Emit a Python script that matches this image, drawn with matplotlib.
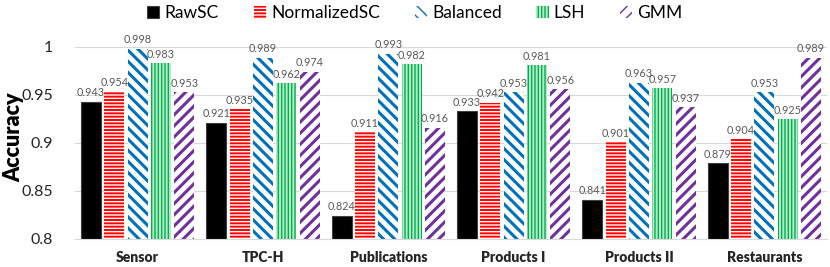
import matplotlib
matplotlib.use("Agg")
import matplotlib.pyplot as plt
import numpy as np

categories = ["Sensor", "TPC-H", "Publications", "Products I", "Products II", "Restaurants"]
series_names = ["RawSC", "NormalizedSC", "Balanced", "LSH", "GMM"]
raw_sc = [0.943, 0.921, 0.824, 0.933, 0.841, 0.879]
normalized_sc = [0.954, 0.935, 0.911, 0.942, 0.901, 0.904]
balanced = [0.998, 0.989, 0.993, 0.953, 0.963, 0.953]
lsh = [0.983, 0.962, 0.982, 0.981, 0.957, 0.925]
gmm = [0.953, 0.974, 0.916, 0.956, 0.937, 0.989]
yticks = [0.8, 0.85, 0.9, 0.95, 1.0]
ytick_labels = ["0.8", "0.85", "0.9", "0.95", "1"]

series = [raw_sc, normalized_sc, balanced, lsh, gmm]

plt.rcParams['font.family'] = ['Lato', 'DejaVu Sans']

styles = [
    dict(face="black", hatch=None, hcolor="#404040", hlw=1.0),
    dict(face="#ff0000", hatch="-----", hcolor="white", hlw=1.0),
    dict(face="white", hatch="\\\\\\", hcolor="#0070c0", hlw=2.2),
    dict(face="#b7ebc8", hatch="|||||", hcolor="#00b050", hlw=1.0),
    dict(face="white", hatch="///", hcolor="#7030a0", hlw=2.2),
]

fig = plt.figure(figsize=(8.3, 2.67), dpi=100)
ax = fig.add_axes([0.0904, 0.105, 0.906, 0.719])

x = np.arange(len(categories))
pitch = 0.186
width = 0.16
handles = []
for i, (vals, st, name) in enumerate(zip(series, styles, series_names)):
    with plt.rc_context({'hatch.linewidth': st["hlw"]}):
        bars = ax.bar(x + (i - 2) * pitch, np.array(vals) - 0.8, width, bottom=0.8,
                      color=st["face"], edgecolor=st["hcolor"], hatch=st["hatch"],
                      linewidth=0.8 if i == 0 else 0, label=name, zorder=3)
    handles.append(bars)
    for xi, v in zip(x + (i - 2) * pitch, vals):
        ax.annotate(f"{v:.3f}", (xi, v), xytext=(0, 2.5), textcoords="offset points",
                    ha="center", va="bottom", fontsize=7.8, color="#595959",
                    clip_on=False, zorder=4)

ax.set_xlim(-0.5, len(categories) - 0.5)
ax.set_ylim(0.8, 1.0)
ax.set_yticks(yticks)
ax.set_yticklabels(ytick_labels, fontsize=11.5, color="#262626")
ax.set_xticks(x)
ax.set_xticklabels(categories, fontsize=10, fontweight="heavy", color="#262626")
ax.tick_params(axis="both", length=0)
ax.tick_params(axis="x", pad=9)
ax.tick_params(axis="y", pad=16)
ax.grid(axis="y", color="#d9d9d9", linewidth=0.8, zorder=0)
for s in ["top", "right", "left"]:
    ax.spines[s].set_visible(False)
ax.spines["bottom"].set_color("#d9d9d9")
ax.spines["bottom"].set_zorder(5)
ax.set_ylabel("Accuracy", fontsize=15.5, fontweight="heavy")
ax.yaxis.label.set_verticalalignment("center")
ax.yaxis.set_label_coords(-0.082, 0.53)

leg = fig.legend(handles=handles, labels=series_names, loc="upper center",
                 bbox_to_anchor=(0.5, 1.04), ncol=5, frameon=False, fontsize=12.5,
                 handlelength=0.7, handleheight=0.7, handletextpad=0.3, columnspacing=2.0)

fig.savefig("out.png", dpi=100)
